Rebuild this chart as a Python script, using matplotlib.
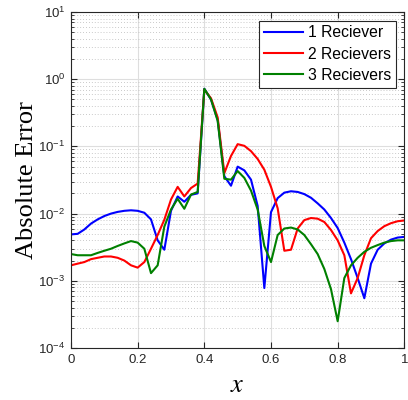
import numpy as np
import matplotlib.pyplot as plt
from matplotlib.ticker import LogLocator, NullFormatter

x = np.linspace(0, 1, 51)

err1 = [0.0049, 0.0050, 0.0058, 0.0071, 0.0082, 0.0092, 0.0100, 0.0106, 0.0110, 0.0112,
        0.0110, 0.0103, 0.0082, 0.0040, 0.0029, 0.0110, 0.0180, 0.0150, 0.0190, 0.0200,
        0.72, 0.50, 0.25, 0.036, 0.026, 0.050, 0.044, 0.032, 0.013, 0.00078,
        0.0105, 0.0170, 0.0205, 0.0215, 0.0210, 0.0195, 0.0172, 0.0142, 0.0115, 0.0086,
        0.0061, 0.0037, 0.0021, 0.0011, 0.00055, 0.0018, 0.0029, 0.0036, 0.0041, 0.0044,
        0.0045]
err2 = [0.0017, 0.0018, 0.0019, 0.0021, 0.0022, 0.0023, 0.0023, 0.0022, 0.0020, 0.0017,
        0.00157, 0.0019, 0.0030, 0.0048, 0.0081, 0.0162, 0.025, 0.018, 0.024, 0.028,
        0.70, 0.52, 0.27, 0.040, 0.072, 0.108, 0.102, 0.085, 0.065, 0.045,
        0.025, 0.012, 0.0028, 0.0029, 0.0060, 0.0080, 0.0086, 0.0084, 0.0075, 0.0057,
        0.0040, 0.0024, 0.00065, 0.0011, 0.0024, 0.0043, 0.0055, 0.0065, 0.0072, 0.0077,
        0.0079]
err3 = [0.0025, 0.0024, 0.0024, 0.0024, 0.0026, 0.0028, 0.0030, 0.0033, 0.0036, 0.0039,
        0.0037, 0.0030, 0.0013, 0.0017, 0.0064, 0.0115, 0.0166, 0.0118, 0.0192, 0.021,
        0.72, 0.50, 0.24, 0.033, 0.032, 0.043, 0.034, 0.022, 0.0115, 0.0033,
        0.0019, 0.0048, 0.0060, 0.0062, 0.0058, 0.0048, 0.0035, 0.0025, 0.0015, 0.00075,
        0.00025, 0.0011, 0.0017, 0.0022, 0.0027, 0.0031, 0.0034, 0.0037, 0.0039, 0.0040,
        0.0040]
labels = ['1 Reciever', '2 Recievers', '3 Recievers']

plt.rcParams['font.family'] = ['Liberation Sans', 'DejaVu Sans']
plt.rcParams['mathtext.fontset'] = 'stix'

fig = plt.figure(figsize=(4.08, 4.0), dpi=100)
ax = fig.add_axes([0.174, 0.13, 0.817, 0.84])

ax.semilogy(x, err1, color=(0, 0, 1), lw=1.5, label=labels[0])
ax.semilogy(x, err2, color=(1, 0, 0), lw=1.5, label=labels[1])
ax.semilogy(x, err3, color=(0, 0.5, 0), lw=1.5, label=labels[2])

ax.set_xlim(0, 1)
ax.set_ylim(1e-4, 1e1)
ax.set_xticks([0, 0.2, 0.4, 0.6, 0.8, 1])
ax.set_xticklabels(['0', '0.2', '0.4', '0.6', '0.8', '1'])
ax.yaxis.set_major_locator(LogLocator(base=10, numticks=10))
ax.yaxis.set_minor_locator(LogLocator(base=10, subs=np.arange(2, 10), numticks=10))
ax.yaxis.set_minor_formatter(NullFormatter())

ax.grid(True, which='major', color='#dedede', lw=0.8)
ax.grid(True, which='minor', axis='y', color='#b8b8b8', lw=0.6, ls=(0, (1, 2.5)))
ax.set_axisbelow(True)

ax.tick_params(which='both', direction='in', top=True, right=True, labelsize=9.5,
               colors='#262626', pad=4)
ax.tick_params(which='major', length=4)
ax.tick_params(which='minor', length=2)
for s in ax.spines.values():
    s.set_color('#262626')
    s.set_linewidth(0.8)

ax.set_ylabel('Absolute Error', family='Liberation Serif', fontsize=19, labelpad=0)
ax.set_xlabel('$x$', fontsize=19, labelpad=5)

leg = ax.legend(loc='upper right', fontsize=11.3, fancybox=False, framealpha=1,
                edgecolor='#262626', handlelength=2.5, borderaxespad=0.55,
                labelspacing=0.4, handletextpad=0.3, borderpad=0.3)
leg.get_frame().set_linewidth(0.8)

fig.savefig('out.png', dpi=100)
